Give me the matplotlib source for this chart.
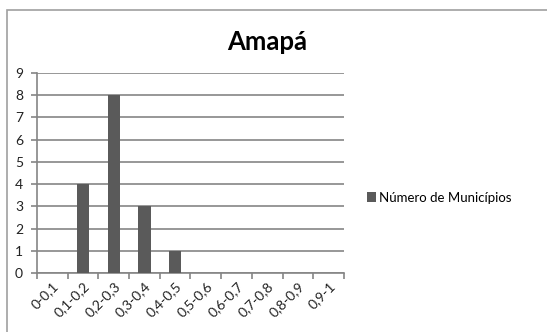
import matplotlib
matplotlib.use('Agg')
import matplotlib.pyplot as plt
from matplotlib.patches import Rectangle
import numpy as np

plt.rcParams['font.family'] = ['Lato', 'DejaVu Sans']

categories = ['0-0,1', '0,1-0,2', '0,2-0,3', '0,3-0,4', '0,4-0,5',
              '0,5-0,6', '0,6-0,7', '0,7-0,8', '0,8-0,9', '0,9-1']
municipios = [0, 4, 8, 3, 1, 0, 0, 0, 0, 0]

fig = plt.figure(figsize=(5.47, 3.32), dpi=100)
ax = fig.add_axes([0.0676, 0.1777, 0.5613, 0.6023])

x = np.arange(len(categories))
ax.bar(x, municipios, width=0.4, color='#5a5a5a', label='Número de Municípios', zorder=3)

ax.set_xlim(-0.5, len(categories) - 0.5)
ax.set_ylim(0, 9)
ax.set_yticks(range(0, 10))
ax.yaxis.grid(True, color='#858585', linewidth=1.2, zorder=0)

# category ticks sit on the boundaries between bars
ax.set_xticks(np.arange(-0.5, len(categories), 1.0), minor=False)
ax.set_xticklabels([])
ax.set_xticks(x, minor=True)
ax.set_xticklabels(categories, minor=True, rotation=45, ha='right',
                   rotation_mode='anchor', fontsize=10, color='#222222')
ax.tick_params(axis='x', which='minor', length=0, pad=5)
ax.tick_params(axis='x', which='major', length=4, color='#858585', width=1.2)
ax.tick_params(axis='y', length=4, color='#858585', width=1.2, labelsize=10,
               labelcolor='#222222', pad=6)

for side in ['top', 'right']:
    ax.spines[side].set_visible(False)
for side in ['left', 'bottom']:
    ax.spines[side].set_color('#858585')
    ax.spines[side].set_linewidth(1.2)

fig.text(0.489, 0.875, 'Amapá', ha='center', va='center',
         fontsize=18.5, fontweight='bold', color='black')

leg = fig.legend(loc='center left', bbox_to_anchor=(0.671, 0.405), frameon=False,
                 fontsize=9.5, handlelength=0.7, handleheight=0.7, handletextpad=0.2,
                 borderaxespad=0, borderpad=0)

# outer chart frame
fig.patches.append(Rectangle((0.0128, -0.2), 1.2, 1.17, transform=fig.transFigure,
                             fill=False, edgecolor='#a0a0a0', linewidth=1.2))

fig.savefig('out.png', dpi=100)
